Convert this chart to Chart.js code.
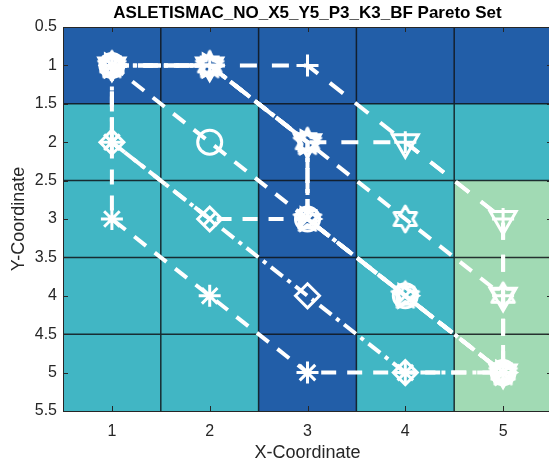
<!DOCTYPE html>
<html>
<head>
<meta charset="utf-8">
<script src="https://cdn.jsdelivr.net/npm/chart.js@4/dist/chart.umd.min.js"></script>
<style>
  html, body { margin: 0; padding: 0; overflow: hidden; background: #ffffff; }
  canvas { display: block; }
</style>
</head>
<body>
<canvas id="c" width="553" height="464"></canvas>
<script>
// ---- axis ticks ----
const xTicks = [1, 2, 3, 4, 5];
const yTicks = [0.5, 1, 1.5, 2, 2.5, 3, 3.5, 4, 4.5, 5, 5.5];

// ---- background cell levels, one row per Y (1..5), columns X = 1..5 ----
const cellRow1 = [1, 1, 1, 1, 1];
const cellRow2 = [2, 2, 1, 2, 2];
const cellRow3 = [2, 2, 1, 2, 3];
const cellRow4 = [2, 2, 1, 2, 3];
const cellRow5 = [2, 2, 1, 2, 3];
const levelColors = { 1: '#225EA8', 2: '#41B6C4', 3: '#A1DAB4' };

// ---- Pareto paths (X, Y) ----
const asteriskX = [1, 1, 1, 2, 3, 4, 5];
const asteriskY = [1, 2, 3, 4, 5, 5, 5];
const diamondX  = [1, 1, 2, 3, 4, 5];
const diamondY  = [1, 2, 3, 4, 5, 5];
const circleX   = [1, 2, 3, 4, 5];
const circleY   = [1, 2, 3, 4, 5];
const hexagramX = [1, 2, 3, 4, 5, 5];
const hexagramY = [1, 1, 2, 3, 4, 5];
const plusX     = [1, 2, 3, 4, 5, 5, 5];
const plusY     = [1, 1, 1, 2, 3, 4, 5];
const triDownX  = [1, 2, 3, 4, 5, 5, 5];
const triDownY  = [1, 1, 2, 2, 3, 4, 5];
const pentagramX = [1, 2, 3, 3, 4, 5];
const pentagramY = [1, 1, 2, 3, 4, 5];
const crossX    = [1, 1, 2, 3, 4, 5];
const crossY    = [1, 2, 3, 3, 4, 5];
const squareX   = [1, 2, 3, 3, 4, 5];
const squareY   = [1, 1, 2, 3, 4, 5];
const triRightX = [1, 2, 3, 3, 4, 5];
const triRightY = [1, 1, 2, 3, 4, 5];

const FONT = '"Liberation Sans", Arial, Helvetica, sans-serif';
const DASHED = [15, 11];
const DASHED_LONG = [17, 15];
const DASHDOT = [15, 6, 4, 6];

// hollow star-shaped marker drawn on a small canvas
function starMarker(points, outer, innerRatio) {
  const size = Math.ceil(outer * 2 + 6);
  const cv = document.createElement('canvas');
  cv.width = size; cv.height = size;
  const g = cv.getContext('2d');
  g.translate(size / 2, size / 2);
  g.beginPath();
  for (let i = 0; i < points * 2; i++) {
    const r = i % 2 === 0 ? outer : outer * innerRatio;
    const a = -Math.PI / 2 + i * Math.PI / points;
    const px = Math.cos(a) * r, py = Math.sin(a) * r;
    if (i === 0) g.moveTo(px, py); else g.lineTo(px, py);
  }
  g.closePath();
  g.strokeStyle = '#ffffff';
  g.lineWidth = 3;
  g.lineJoin = 'round';
  g.stroke();
  return cv;
}
const hexagramMarker = starMarker(6, 13, 0.577);
const pentagramMarker = starMarker(5, 14, 0.40);

function toPoints(xs, ys) { return xs.map((x, i) => ({ x: x, y: ys[i] })); }

function series(xs, ys, style, dash, radius, rotation) {
  return {
    data: toPoints(xs, ys),
    showLine: true,
    borderColor: '#ffffff',
    borderWidth: 4,
    borderDash: dash,
    borderCapStyle: 'butt',
    tension: 0,
    pointStyle: style,
    pointRadius: radius,
    pointRotation: rotation || 0,
    pointBorderColor: '#ffffff',
    pointBackgroundColor: 'rgba(0,0,0,0)',
    pointBorderWidth: 3,
    pointHoverRadius: radius
  };
}

const datasets = [
  series(asteriskX, asteriskY, 'star', DASHED, 11),
  series(diamondX, diamondY, 'rectRot', DASHDOT, 12),
  series(circleX, circleY, 'circle', DASHED, 12),
  series(hexagramX, hexagramY, hexagramMarker, DASHED, 12),
  series(plusX, plusY, 'cross', DASHED_LONG, 11),
  series(triDownX, triDownY, 'triangle', DASHED_LONG, 15, 180),
  series(pentagramX, pentagramY, pentagramMarker, DASHDOT, 12),
  series(crossX, crossY, 'crossRot', DASHED, 9),
  series(squareX, squareY, 'rect', DASHDOT, 12),
  series(triRightX, triRightY, 'triangle', DASHED, 13, 90)
];

// background cells and their edges, plus the axes box with inward ticks
const cellPlugin = {
  id: 'cells',
  beforeDatasetsDraw(chart) {
    const { ctx, scales: { x, y } } = chart;
    const rows = [cellRow1, cellRow2, cellRow3, cellRow4, cellRow5];
    ctx.save();
    rows.forEach((row, r) => {
      row.forEach((lvl, c) => {
        const x0 = x.getPixelForValue(c + 0.5), x1 = x.getPixelForValue(c + 1.5);
        const y0 = y.getPixelForValue(r + 0.5), y1 = y.getPixelForValue(r + 1.5);
        ctx.fillStyle = levelColors[lvl];
        ctx.fillRect(Math.min(x0, x1), Math.min(y0, y1), Math.abs(x1 - x0) + 0.5, Math.abs(y1 - y0) + 0.5);
      });
    });
    ctx.strokeStyle = 'rgba(15,20,25,0.85)';
    ctx.lineWidth = 1.5;
    ctx.beginPath();
    for (let k = 1.5; k < 5.5; k += 1) {
      const px = x.getPixelForValue(k);
      ctx.moveTo(px, y.getPixelForValue(0.5));
      ctx.lineTo(px, y.getPixelForValue(5.5));
      const py = y.getPixelForValue(k);
      ctx.moveTo(x.getPixelForValue(0.5), py);
      ctx.lineTo(x.getPixelForValue(5.5), py);
    }
    ctx.stroke();
    ctx.restore();
  },
  afterDraw(chart) {
    const { ctx, chartArea: a, scales: { x, y } } = chart;
    ctx.save();
    ctx.strokeStyle = '#262626';
    ctx.lineWidth = 1;
    ctx.beginPath();
    xTicks.forEach(v => {
      const px = Math.round(x.getPixelForValue(v)) + 0.5;
      ctx.moveTo(px, a.bottom); ctx.lineTo(px, a.bottom - 5);
      ctx.moveTo(px, a.top); ctx.lineTo(px, a.top + 5);
    });
    yTicks.forEach(v => {
      const py = Math.round(y.getPixelForValue(v)) + 0.5;
      ctx.moveTo(a.left, py); ctx.lineTo(a.left + 5, py);
      ctx.moveTo(a.right, py); ctx.lineTo(a.right - 5, py);
    });
    ctx.stroke();
    ctx.strokeRect(Math.round(a.left) + 0.5, Math.round(a.top) + 0.5,
                   Math.round(a.right - a.left), Math.round(a.bottom - a.top));
    ctx.restore();
  }
};

new Chart(document.getElementById('c'), {
  type: 'scatter',
  data: { datasets },
  plugins: [cellPlugin],
  options: {
    responsive: false,
    animation: false,
    events: [],
    layout: { autoPadding: false, padding: { left: 0, right: 1, top: 0, bottom: 0 } },
    plugins: {
      legend: { display: false },
      tooltip: { enabled: false },
      title: {
        display: true,
        fullSize: false,
        text: 'ASLETISMAC_NO_X5_Y5_P3_K3_BF Pareto Set',
        color: '#000000',
        font: { family: FONT, size: 17, weight: 'bold' },
        padding: { top: 3, bottom: 3.6 }
      }
    },
    scales: {
      x: {
        type: 'linear', min: 0.5, max: 5.5,
        grid: { display: false, drawTicks: false },
        border: { display: false },
        afterBuildTicks: s => { s.ticks = xTicks.map(v => ({ value: v })); },
        afterFit: s => { s.height = 53; },
        ticks: { padding: 11, color: '#262626', font: { family: FONT, size: 16 }, callback: v => String(v) },
        title: { display: true, text: 'X-Coordinate', color: '#262626', font: { family: FONT, size: 18 }, padding: { top: 0, bottom: 0 } }
      },
      y: {
        type: 'linear', min: 0.5, max: 5.5, reverse: true,
        grid: { display: false, drawTicks: false },
        border: { display: false },
        afterBuildTicks: s => { s.ticks = yTicks.map(v => ({ value: v })); },
        afterFit: s => { s.width = 63; },
        ticks: { padding: 6, color: '#262626', font: { family: FONT, size: 16 }, callback: v => String(v) },
        title: { display: true, text: 'Y-Coordinate', color: '#262626', font: { family: FONT, size: 18 }, padding: { top: 8, bottom: 0 } }
      }
    }
  }
});
</script>
</body>
</html>
